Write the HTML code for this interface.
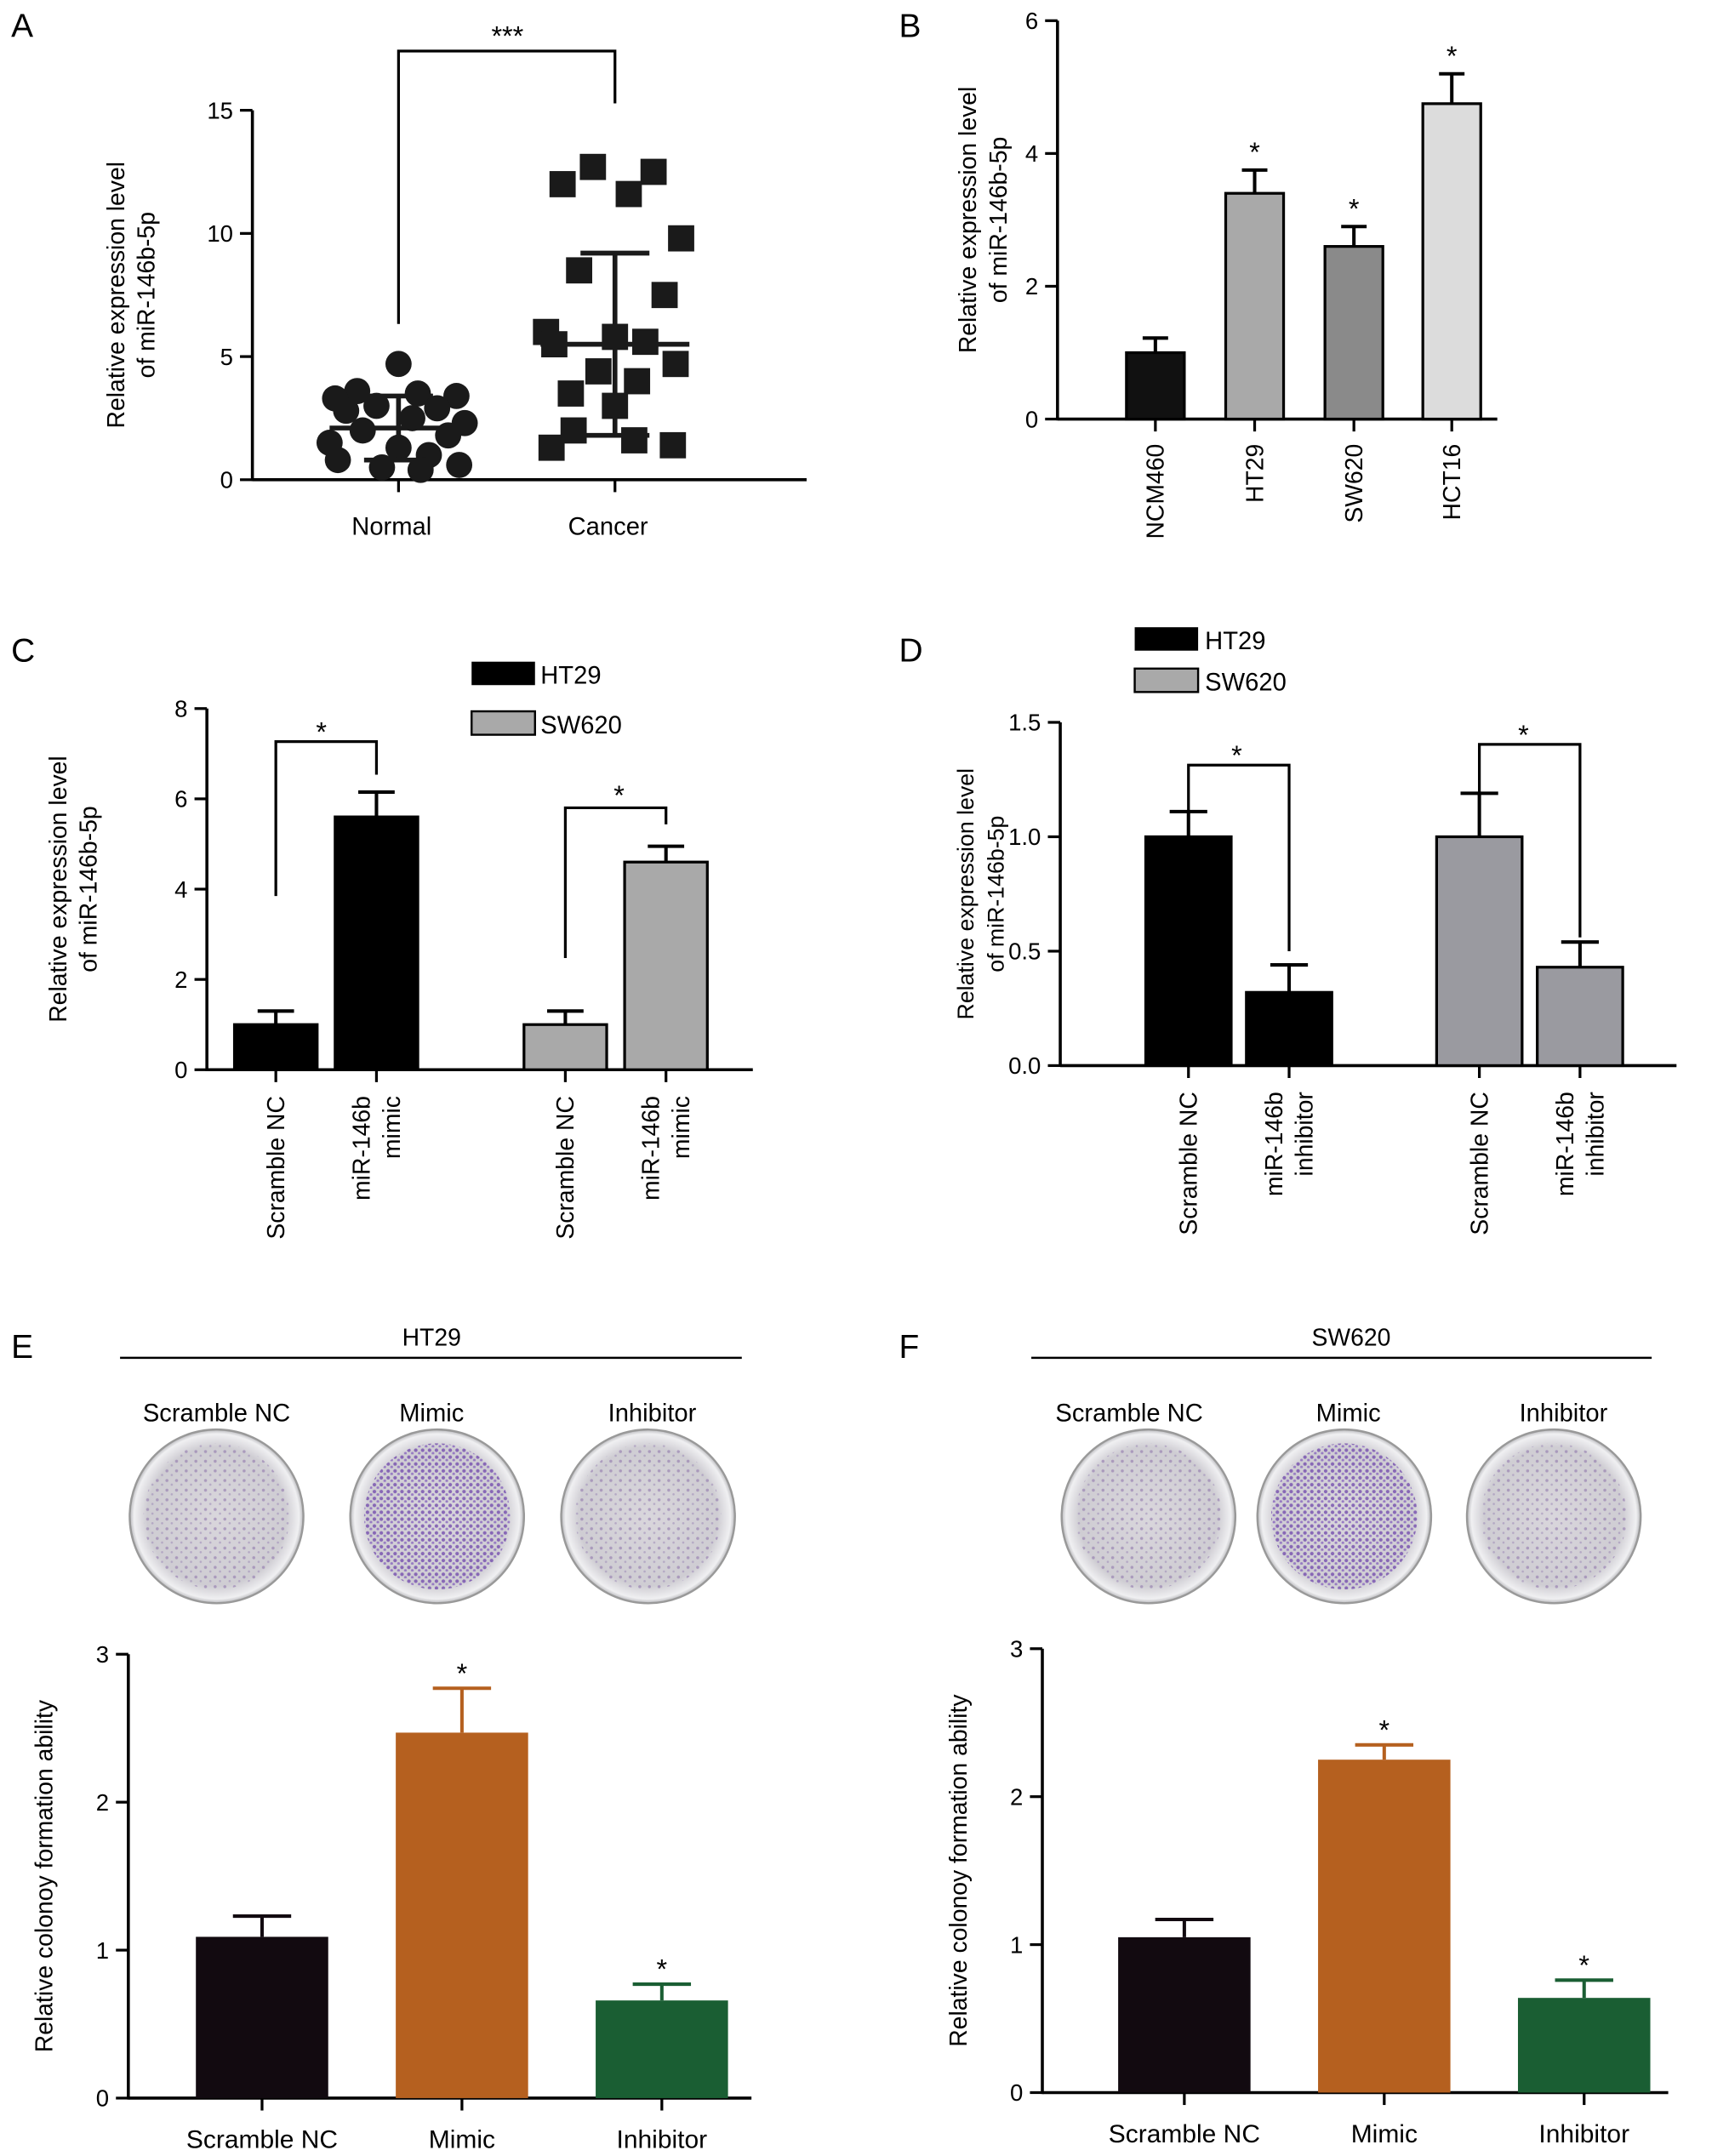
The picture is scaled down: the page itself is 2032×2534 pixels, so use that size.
<!DOCTYPE html>
<html><head><meta charset="utf-8"><style>
html,body{margin:0;padding:0;background:#fff}
svg{display:block;font-family:"Liberation Sans",Arial,sans-serif}
</style></head><body>
<svg id="fig" width="2032" height="2534" viewBox="0 0 1254 1564" xmlns="http://www.w3.org/2000/svg">
<defs>
<radialGradient id="plateG" cx="50%" cy="50%" r="50%">
<stop offset="0%" stop-color="#d9d6dc"/><stop offset="80%" stop-color="#cfcdd3"/><stop offset="95%" stop-color="#f0f0f2"/><stop offset="100%" stop-color="#b8b8bc"/>
</radialGradient>
<pattern id="dotsLight" width="7" height="7" patternUnits="userSpaceOnUse"><circle cx="2" cy="3" r="1.1" fill="#8a6fa8"/><circle cx="5.5" cy="6" r="0.8" fill="#9b88b5"/></pattern>
<pattern id="dotsHeavy" width="5" height="5" patternUnits="userSpaceOnUse"><circle cx="1.5" cy="2" r="1.3" fill="#7a55b0"/><circle cx="4" cy="4.2" r="1" fill="#8d6cc0"/></pattern>
</defs>
<g id="root"></g>
</svg>
<script>
// ---------- DATA ----------
const aNormal = [4.7,3.6,3.5,3.4,3.3,3.0,2.9,2.8,2.5,2.3,2.0,1.8,1.5,1.3,1.0,0.8,0.6,0.5,0.4];
const aCancer = [12.7,12.5,12.0,11.6,9.8,8.5,7.5,6.0,5.8,5.6,5.5,4.7,4.4,4.0,3.5,3.0,2.0,1.6,1.4,1.3];
const aMeans = [2.1,5.5];
const aSD = [1.3,3.7];
const aTicks = [0,5,10,15];
const aCats = ["Normal","Cancer"];

const bCats = ["NCM460","HT29","SW620","HCT16"];
const bVals = [1.0,3.4,2.6,4.75];
const bErr = [0.22,0.35,0.3,0.45];
const bTicks = [0,2,4,6];

const cCats = ["Scramble NC","miR-146b mimic","Scramble NC","miR-146b mimic"];
const cVals = [1.0,5.6,1.0,4.6];
const cErr = [0.3,0.55,0.3,0.35];
const cTicks = [0,2,4,6,8];

const dCats = ["Scramble NC","miR-146b inhibitor","Scramble NC","miR-146b inhibitor"];
const dVals = [1.0,0.32,1.0,0.43];
const dErr = [0.11,0.12,0.19,0.11];
const dTicks = [0,0.5,1.0,1.5];

const eCats = ["Scramble NC","Mimic","Inhibitor"];
const eVals = [1.09,2.47,0.66];
const eErr = [0.14,0.3,0.11];
const fVals = [1.05,2.25,0.64];
const fErr = [0.12,0.1,0.12];
const efTicks = [0,1,2,3];

// ---------- HELPERS ----------
const NS="http://www.w3.org/2000/svg";
const root=document.getElementById('root');
function mk(tag,attrs,parent,text){const e=document.createElementNS(NS,tag);for(const k in attrs)e.setAttribute(k,attrs[k]);if(text!==undefined)e.textContent=text;(parent||root).appendChild(e);return e;}
function grp(name){const g=mk('g',{});


return g;}
function yScale(y0px,yTopPx,maxV){return v=>y0px-(v/maxV)*(y0px-yTopPx);}
function yAxis(g,x,ys,ticks,fmt,title,titleX,titleLines,tfs){
  const l=mk('line',{x1:x,y1:ys(0)+1,x2:x,y2:ys(ticks[ticks.length-1]),stroke:'#000','stroke-width':2.2},g);
  
  
  ticks.forEach(t=>{
    mk('line',{x1:x-9,y1:ys(t),x2:x,y2:ys(t),stroke:'#000','stroke-width':2},g);
    const tx=mk('text',{x:x-14,y:ys(t)+6,'font-size':17,'text-anchor':'end'},g,fmt(t));
    
    
  });
  const cy=(ys(0)+ys(ticks[ticks.length-1]))/2;
  const tt=mk('text',{transform:`translate(${titleX},${cy}) rotate(-90)`,'font-size':tfs||17.5,'text-anchor':'middle'},g);
  
  
  titleLines.forEach((s,i)=>mk('tspan',{x:0,dy:i===0?0:22},tt,s));
}
function xAxis(g,x1,x2,y,tickXs){
  const l=mk('line',{x1:x1,y1:y,x2:x2,y2:y,stroke:'#000','stroke-width':2.2},g);
  
  
  tickXs.forEach(t=>mk('line',{x1:t,y1:y,x2:t,y2:y+9,stroke:'#000','stroke-width':2},g));
}
function bar(g,cx,w,v,err,ys,fill,name,stroke){
  const r=mk('rect',{x:cx-w/2,y:ys(v),width:w,height:ys(0)-ys(v),fill:fill,stroke:stroke||'#000','stroke-width':2},g);
  
  
  const ec=stroke||'#000';
  mk('line',{x1:cx,y1:ys(v),x2:cx,y2:ys(v+err),stroke:ec==='none'?fill:ec,'stroke-width':2.5},g);
  mk('line',{x1:cx-w*0.22,y1:ys(v+err),x2:cx+w*0.22,y2:ys(v+err),stroke:ec==='none'?fill:ec,'stroke-width':2.5},g);
}
function letter(t,x,y){const e=mk('text',{x:x,y:y,'font-size':24},root,t);

}
function star(g,x,y,s){mk('text',{x:x,y:y,'font-size':20,'text-anchor':'middle'},g,s||'*');}
function rotLabel(g,x,y,lines){
  const t=mk('text',{transform:`translate(${x},${y}) rotate(-90)`,'font-size':17.5,'text-anchor':'end'},g);
  
  
  const off=(lines.length-1)*11;
  lines.forEach((s,i)=>mk('tspan',{x:0,y:(i*22-off+6)},t,s));
}

// ---------- PANEL A ----------
(function(){
  const g=grp('panel-a-scatter');
  const ys=yScale(348,80,15);
  const xs=[289,446];
  yAxis(g,183,ys,aTicks,t=>String(t),'',90,['Relative expression level','of miR-146b-5p']);
  xAxis(g,183,585,348,xs);
  aCats.forEach((c,i)=>{const t=mk('text',{x:xs[i]-5,y:388,'font-size':18,'text-anchor':'middle'},g,c);
  
  });
  const jit=[0,-30,14,42,-46,-16,28,-38,10,48,-26,36,-50,0,22,-44,44,-12,16,-32];
  aNormal.forEach((v,i)=>{const c=mk('circle',{cx:xs[0]+jit[i%jit.length],cy:ys(v),r:9.5,fill:'#1a1a1a'},g);
  
  });
  aCancer.forEach((v,i)=>{const c=mk('rect',{x:xs[1]+jit[(i+5)%jit.length]-9.5,y:ys(v)-9.5,width:19,height:19,fill:'#1a1a1a'},g);
  
  });
  const mw=[50,54];
  xs.forEach((x,i)=>{
    mk('line',{x1:x-mw[i],y1:ys(aMeans[i]),x2:x+mw[i],y2:ys(aMeans[i]),stroke:'#1a1a1a','stroke-width':3.5},g);
    mk('line',{x1:x,y1:ys(aMeans[i]-aSD[i]),x2:x,y2:ys(aMeans[i]+aSD[i]),stroke:'#1a1a1a','stroke-width':3.5},g);
    [aMeans[i]-aSD[i],aMeans[i]+aSD[i]].forEach(v=>mk('line',{x1:x-25,y1:ys(v),x2:x+25,y2:ys(v),stroke:'#1a1a1a','stroke-width':3.5},g));
  });
  mk('polyline',{points:`289,235 289,37 446,37 446,75`,fill:'none',stroke:'#000','stroke-width':2},g);
  star(g,368,33,'***');
})();

// ---------- PANEL B ----------
(function(){
  const g=grp('panel-b-bar-chart');
  const ys=yScale(304,15,6);
  const xs=[838,910,982,1053];
  const fills=['#111','#a9a9a9','#8a8a8a','#dcdcdc'];
  yAxis(g,767,ys,bTicks,t=>String(t),'',708,['Relative expression level','of miR-146b-5p']);
  xAxis(g,767,1086,304,xs);
  bCats.forEach((c,i)=>{bar(g,xs[i],42,bVals[i],bErr[i],ys,fills[i],'bar-'+c.toLowerCase());
    if(i>0)star(g,xs[i],ys(bVals[i]+bErr[i])-6);
    rotLabel(g,xs[i],322,[c]);});
})();

// ---------- PANEL C ----------
(function(){
  const g=grp('panel-c-bar-chart');
  const ys=yScale(776,514,8);
  const xs=[200,273,410,483];
  const fills=['#000','#000','#a9a9a9','#a9a9a9'];
  yAxis(g,150,ys,cTicks,t=>String(t),'',48,['Relative expression level','of miR-146b-5p']);
  xAxis(g,150,546,776,xs);
  cCats.forEach((c,i)=>{bar(g,xs[i],60,cVals[i],cErr[i],ys,fills[i],'bar-c-'+i);
    rotLabel(g,xs[i],795,c.indexOf('mimic')>=0?['miR-146b','mimic']:[c]);});
  mk('polyline',{points:'200,650 200,538 273,538 273,562',fill:'none',stroke:'#000','stroke-width':2},g);
  star(g,233,538);
  mk('polyline',{points:'410,695 410,586 483,586 483,598',fill:'none',stroke:'#000','stroke-width':2},g);
  star(g,449,584);
  const l1=mk('rect',{x:342,y:480,width:46,height:17,fill:'#000'},g);
  
  
  mk('text',{x:392,y:496,'font-size':18},g,'HT29');
  const l2=mk('rect',{x:342,y:516,width:46,height:17,fill:'#a9a9a9',stroke:'#000','stroke-width':1.5},g);
  
  
  mk('text',{x:392,y:532,'font-size':18},g,'SW620');
})();

// ---------- PANEL D ----------
(function(){
  const g=grp('panel-d-bar-chart');
  const ys=yScale(773,524,1.5);
  const xs=[862,935,1073,1146];
  const fills=['#000','#000','#9a9aa0','#9a9aa0'];
  yAxis(g,769,ys,dTicks,t=>t.toFixed(1),'',706,['Relative expression level','of miR-146b-5p'],16.5);
  xAxis(g,769,1216,773,xs);
  dCats.forEach((c,i)=>{bar(g,xs[i],62,dVals[i],dErr[i],ys,fills[i],'bar-d-'+i);
    rotLabel(g,xs[i],792,c.indexOf('inhibitor')>=0?['miR-146b','inhibitor']:[c]);});
  mk('polyline',{points:'862,592 862,555 935,555 935,690',fill:'none',stroke:'#000','stroke-width':2},g);
  star(g,897,555);
  mk('polyline',{points:'1073,575 1073,540 1146,540 1146,680',fill:'none',stroke:'#000','stroke-width':2},g);
  star(g,1105,540);
  const l1=mk('rect',{x:823,y:455,width:46,height:17,fill:'#000'},g);
  
  
  mk('text',{x:874,y:471,'font-size':18},g,'HT29');
  const l2=mk('rect',{x:823,y:485,width:46,height:17,fill:'#a9a9a9',stroke:'#000','stroke-width':1.5},g);
  
  
  mk('text',{x:874,y:501,'font-size':18},g,'SW620');
})();

// ---------- PANELS E / F ----------
function colonyPanel(name,title,titleX,lineX1,lineX2,labelXs,plateXs,heavy,axX,y0,yTop,barXs,vals,errs,axEnd,labelY){
  const g=grp(name);
  mk('text',{x:titleX,y:976,'font-size':17.5,'text-anchor':'middle'},g,title);
  mk('line',{x1:lineX1,y1:985,x2:lineX2,y2:985,stroke:'#000','stroke-width':1.5},g);
  eCats.forEach((c,i)=>{mk('text',{x:labelXs[i],y:1031,'font-size':18,'text-anchor':'middle'},g,c);
    const p=mk('circle',{cx:plateXs[i],cy:1100,r:63,fill:'url(#plateG)',stroke:'#999','stroke-width':1.5},g);
    
    
    mk('circle',{cx:plateXs[i],cy:1100,r:53,fill:heavy[i]?'url(#dotsHeavy)':'url(#dotsLight)',opacity:heavy[i]?0.85:0.55},g);
  });
  const ys=yScale(y0,yTop,3);
  yAxis(g,axX,ys,efTicks,t=>String(t),'',axX-55,['Relative colonoy formation ability']);
  xAxis(g,axX,axEnd,y0,barXs);
  const fills=['#120a10','#b5601f','#1a5e33'];
  eCats.forEach((c,i)=>{bar(g,barXs[i],96,vals[i],errs[i],ys,fills[i],'bar-'+c.toLowerCase().replace(' ','-'),'none');
    if(i>0)star(g,barXs[i],ys(vals[i]+errs[i])-4);
    mk('text',{x:barXs[i],y:labelY,'font-size':18.5,'text-anchor':'middle'},g,c);});
}
colonyPanel('panel-e-colony','HT29',313,87,538,[157,313,473],[157,317,470],[false,true,false],93,1522,1200,[190,335,480],eVals,eErr,545,1558);
colonyPanel('panel-f-colony','SW620',980,748,1198,[819,978,1134],[833,975,1127],[false,true,false],756,1518,1196,[859,1004,1149],fVals,fErr,1210,1554);

letter('A',8,27);letter('B',652,27);letter('C',8,480);letter('D',652,480);letter('E',8,985);letter('F',652,985);
</script>
</body></html>
